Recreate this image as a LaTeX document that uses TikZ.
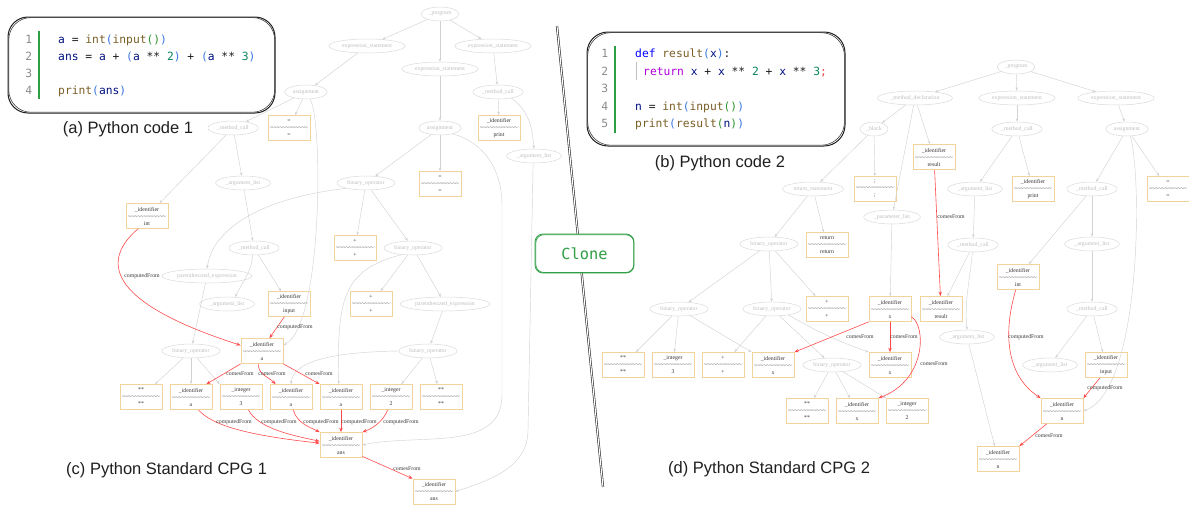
\documentclass[tikz,border=0pt]{standalone}
\usepackage{fontspec}
\setmainfont{Liberation Serif}
\newfontfamily\capfont{Liberation Sans}
\newfontfamily\codefont{DejaVu Sans Mono}
\usetikzlibrary{shapes.geometric,arrows.meta,calc}

% graph colours
\definecolor{ellc}{HTML}{D9D9D9}
\definecolor{elltxt}{HTML}{BDBDBD}
\definecolor{boxc}{HTML}{F2D49B}
\definecolor{boxtxt}{HTML}{333333}
\definecolor{edgec}{HTML}{D2D2D2}
\definecolor{redc}{HTML}{FF4A4A}
\definecolor{lbltxt}{HTML}{3A3A3A}
% code colours
\definecolor{cvar}{HTML}{001080}
\definecolor{cfun}{HTML}{795E26}
\definecolor{cnum}{HTML}{098658}
\definecolor{cbra}{HTML}{3A78E0}
\definecolor{cbrb}{HTML}{319331}
\definecolor{ckw}{HTML}{0000FF}
\definecolor{cret}{HTML}{AF00DB}
\definecolor{csemi}{HTML}{E0403A}
\definecolor{clnum}{HTML}{8A8A8A}
\definecolor{cbar}{HTML}{2EA043}
\definecolor{clonec}{HTML}{2F9E44}

\newcommand\gfont{\fontsize{5.8}{7}\selectfont}
\newcommand\sepln{\string~\string~\string~\string~\string~\string~\string~\string~\string~\string~\string~\string~}
\newcommand\bx[2]{#1\\\sepln\\#2}
\newcommand\cv[1]{\textcolor{cvar}{#1}}
\newcommand\fn[1]{\textcolor{cfun}{#1}}
\newcommand\nm[1]{\textcolor{cnum}{#1}}
\newcommand\ba[1]{\textcolor{cbra}{#1}}
\newcommand\bb[1]{\textcolor{cbrb}{#1}}
\newcommand\kw[1]{\textcolor{ckw}{#1}}
\newcommand\kr[1]{\textcolor{cret}{#1}}
\newcommand\sm[1]{\textcolor{csemi}{#1}}

\begin{document}
\begin{tikzpicture}[x=1pt,y=1pt,
  enode/.style={ellipse,draw=ellc,line width=0.5pt,text=elltxt,font=\gfont,inner xsep=2pt,inner ysep=0.5pt,minimum height=14pt},
  cbox/.style={rectangle,draw=boxc,line width=0.75pt,minimum width=42pt,minimum height=25pt,inner sep=0pt,align=center,font=\gfont,text=boxtxt},
  ge/.style={draw=edgec,line width=0.45pt,-{Stealth[length=3.4pt,width=2.6pt]}},
  re/.style={draw=redc,line width=0.6pt,-{Stealth[length=4.4pt,width=3.4pt]}},
  elab/.style={font=\gfont,text=lbltxt,inner sep=0pt},
  codeln/.style={anchor=base west,inner sep=0pt,text=black!88,font=\codefont\fontsize{11.3}{13}\selectfont},
  lnum/.style={anchor=base east,inner sep=0pt,text=clnum,font=\codefont\fontsize{11.3}{13}\selectfont},
  sketch/.style={draw=black!88,line width=1pt},
  sketchb/.style={draw=black!80,line width=0.55pt},
  captxt/.style={inner sep=0pt,text=black!88,font=\capfont\fontsize{16.5}{19}\selectfont},
]
\useasboundingbox (0,0) rectangle (1189,-504);

% ---------------- code panel (a) ----------------
\draw[sketch,rounded corners=20pt] (8,-17) rectangle (275,-113);
\draw[sketchb,rounded corners=22pt] (8.8,-17.6) rectangle (274.6,-112.2);
\draw[cbar,line width=2.4pt] (39,-31) -- (39,-99);
\node[lnum] (an1) at (32.4,-43) {1};
\node[lnum] (an2) at (32.4,-60) {2};
\node[lnum] (an3) at (32.4,-77) {3};
\node[lnum] (an4) at (32.4,-94) {4};
\node[codeln] (ac1) at (58,-43) {\cv{a} = \fn{int}\ba{(}\fn{input}\bb{()}\ba{)}};
\node[codeln] (ac2) at (58,-60) {\cv{ans} = \cv{a} + \ba{(}\cv{a} ** \nm{2}\ba{)} + \ba{(}\cv{a} ** \nm{3}\ba{)}};
\node[codeln] (ac4) at (58,-94) {\fn{print}\ba{(}\cv{ans}\ba{)}};
\node[captxt,anchor=base] (capa) at (128,-133) {(a) Python code 1};

% ---------------- code panel (b) ----------------
\draw[sketch,rounded corners=21pt] (587,-32) rectangle (845,-146);
\draw[sketchb,rounded corners=23pt] (587.7,-32.7) rectangle (844.4,-145.2);
\draw[cbar,line width=2.4pt] (615,-46) -- (615,-133);
\draw[black!25,line width=0.6pt] (636,-62) -- (636,-80);
\node[lnum] (bn1) at (608.4,-57.5) {1};
\node[lnum] (bn2) at (608.4,-75) {2};
\node[lnum] (bn3) at (608.4,-92.5) {3};
\node[lnum] (bn4) at (608.4,-110) {4};
\node[lnum] (bn5) at (608.4,-127.5) {5};
\node[codeln] (bc1) at (635,-57.5) {\kw{def} \fn{result}\ba{(}\cv{x}\ba{)}:};
\node[codeln] (bc2) at (643,-75) {\kr{return} \cv{x} + \cv{x} ** \nm{2} + \cv{x} ** \nm{3}\sm{;}};
\node[codeln] (bc4) at (635,-110) {\cv{n} = \fn{int}\ba{(}\fn{input}\bb{()}\ba{)}};
\node[codeln] (bc5) at (635,-127.5) {\fn{print}\ba{(}\fn{result}\bb{(}\cv{n}\bb{)}\ba{)}};
\node[captxt,anchor=base] (capb) at (720,-167) {(b) Python code 2};

% ---------------- CPG 1 ----------------
\node[enode] (Lprog) at (440,-14) {\_program};
\node[enode] (Lexs1) at (367,-46) {expression\_statement};
\node[enode] (Lexs2) at (440,-69) {expression\_statement};
\node[enode] (Lexs3) at (493,-46) {expression\_statement};
\node[enode] (Lasg1) at (306,-92) {assignment};
\node[enode] (Lmc3) at (498,-92) {\_method\_call};
\node[enode] (Lmc1) at (233,-128) {\_method\_call};
\node[enode] (Lasg2) at (440,-128) {assignment};
\node[enode] (Lal3) at (534,-156) {\_argument\_list};
\node[enode] (Lal1) at (243,-183) {\_argument\_list};
\node[enode] (Lbo1) at (366,-183) {binary\_operator};
\node[enode] (Lmc2) at (254,-248) {\_method\_call};
\node[enode] (Lbo2) at (413,-248) {binary\_operator};
\node[enode] (Lpe1) at (207,-276) {parenthesized\_expression};
\node[enode] (Lal2) at (227,-304) {\_argument\_list};
\node[enode] (Lpe2) at (445,-304) {parenthesized\_expression};
\node[enode] (Lbo3) at (191,-351) {binary\_operator};
\node[enode] (Lbo4) at (428,-351) {binary\_operator};

\node[cbox] (Leq1) at (289,-128) {\bx{=}{=}};
\node[cbox] (Lprint) at (499,-128) {\bx{\_identifier}{print}};
\node[cbox] (Leq2) at (440,-184) {\bx{=}{=}};
\node[cbox] (Lint) at (147,-216) {\bx{\_identifier}{int}};
\node[cbox] (Lplus1) at (355,-248) {\bx{+}{+}};
\node[cbox] (Linput) at (289,-304) {\bx{\_identifier}{input}};
\node[cbox] (Lplus2) at (371,-304) {\bx{+}{+}};
\node[cbox] (La0) at (262,-351) {\bx{\_identifier}{a}};
\node[cbox] (Lpow1) at (141,-397) {\bx{**}{**}};
\node[cbox] (La1) at (191,-397) {\bx{\_identifier}{a}};
\node[cbox] (Lint3) at (241,-397) {\bx{\_integer}{3}};
\node[cbox] (La2) at (291,-397) {\bx{\_identifier}{a}};
\node[cbox] (La3) at (341,-397) {\bx{\_identifier}{a}};
\node[cbox] (Lint2) at (391,-397) {\bx{\_integer}{2}};
\node[cbox] (Lpow2) at (441,-397) {\bx{**}{**}};
\node[cbox] (Lans) at (341,-445) {\bx{\_identifier}{ans}};
\node[cbox] (Lans2) at (434,-491.5) {\bx{\_identifier}{ans}};

% syntax edges
\draw[ge] (Lprog) -- (Lexs1);
\draw[ge] (Lprog) -- (Lexs2);
\draw[ge] (Lprog) -- (Lexs3);
\draw[ge] (Lexs1) -- (Lasg1);
\draw[ge] (Lasg1) -- (Lmc1);
\draw[ge] (Lasg1) -- (Leq1);
\draw[ge] (Lasg1.-60) .. controls (323,-120) and (323,-325) .. (La0.15);
\draw[ge] (Lmc1) -- (Lint);
\draw[ge] (Lmc1) -- (Lal1);
\draw[ge] (Lal1) -- (Lmc2);
\draw[ge] (Lmc2.-100) to[out=-95,in=65] (Lal2.40);
\draw[ge] (Lmc2) -- (Linput);
\draw[ge] (Lexs2) -- (Lasg2);
\draw[ge] (Lasg2) -- (Lbo1);
\draw[ge] (Lasg2) -- (Leq2);
\draw[ge] (Lasg2.-25) to[out=-15,in=90] (502,-205) -- (502,-395) to[out=-90,in=12] (Lans.east);
\draw[ge] (Lbo1) -- (Lplus1);
\draw[ge] (Lbo1) -- (Lbo2);
\draw[ge] (Lbo1.195) .. controls (262,-198) and (213,-228) .. (Lpe1.north);
\draw[ge] (Lbo2) -- (Lplus2);
\draw[ge] (Lbo2) -- (Lpe2);
\draw[ge] (Lbo2.-150) .. controls (342,-270) and (337,-300) .. (La3.100);
\draw[ge] (Lpe1) -- (Lbo3);
\draw[ge] (Lpe2) -- (Lbo4);
\draw[ge] (Lbo3) -- (Lpow1);
\draw[ge] (Lbo3) -- (La1);
\draw[ge] (Lbo3) -- (Lint3.north west);
\draw[ge] (Lbo4.west) .. controls (330,-352) and (293,-362) .. (La2.north);
\draw[ge] (Lbo4) -- (Lint2);
\draw[ge] (Lbo4) -- (Lpow2);
\draw[ge] (Lexs3) -- (Lmc3);
\draw[ge] (Lmc3) -- (Lprint);
\draw[ge] (Lmc3.-25) to[out=-35,in=95] (Lal3.north);
\draw[ge] (Lal3.-97) -- (528,-430) to[out=-90,in=18] (Lans2.east);

% data-flow edges
\draw[re] (Lint.235) .. controls (104,-258) and (100,-300) .. (La0.165);
\draw[re] (Linput.250) -- (La0.60);
\draw[re] (La0.south west) -- (La1.40);
\draw[re] (La0.255) to[out=-95,in=135] (La2.140);
\draw[re] (La0.south east) -- (La3.north west);
\draw[re] (La1.-60) .. controls (212,-425) and (245,-435) .. (Lans.175);
\draw[re] (Lint3.-60) .. controls (258,-428) and (290,-435) .. (Lans.170);
\draw[re] (La2.-80) .. controls (297,-424) and (312,-428) .. (Lans.north west);
\draw[re] (La3) -- (Lans);
\draw[re] (Lint2.-105) .. controls (384,-420) and (374,-428) .. (Lans.north east);
\draw[re] (Lans.-28) -- (Lans2.north west);

\node[elab] (l1) at (142,-276) {computedFrom};
\node[elab] (l2) at (295,-327) {computedFrom};
\node[elab] (l3) at (240,-374) {comesFrom};
\node[elab] (l4) at (272,-374) {comesFrom};
\node[elab] (l5) at (319,-374) {comesFrom};
\node[elab] (l6) at (234,-422) {computedFrom};
\node[elab] (l7) at (279,-422) {computedFrom};
\node[elab] (l8) at (321,-422) {computedFrom};
\node[elab] (l9) at (359,-422) {computedFrom};
\node[elab] (l10) at (401,-422) {computedFrom};
\node[elab] (l11) at (407,-469) {comesFrom};

\node[captxt,anchor=base west] (capc) at (66,-474) {(c) Python Standard CPG 1};

% ---------------- CPG 2 ----------------
\node[enode] (Rprog) at (1016,-67) {\_program};
\node[enode] (Rmd) at (915,-98) {\_method\_declaration};
\node[enode] (Rexs1) at (1017,-98) {expression\_statement};
\node[enode] (Rexs2) at (1116,-98) {expression\_statement};
\node[enode] (Rblock) at (874,-129) {\_block};
\node[enode] (Rmc1) at (1017,-129) {\_method\_call};
\node[enode] (Rasg) at (1127,-129) {assignment};
\node[enode] (Rret) at (813,-189) {return\_statement};
\node[enode] (Ral1) at (975,-189) {\_argument\_list};
\node[enode] (Rmc2) at (1092,-189) {\_method\_call};
\node[enode] (Rpl) at (892,-217) {\_parameter\_list};
\node[enode] (Rbo1) at (769,-244) {binary\_operator};
\node[enode] (Rmc3) at (973,-245) {\_method\_call};
\node[enode] (Ral2) at (1092,-244) {\_argument\_list};
\node[enode] (Rbo2) at (679,-309) {binary\_operator};
\node[enode] (Rbo3) at (772,-309) {binary\_operator};
\node[enode] (Rmc4) at (1092,-309) {\_method\_call};
\node[enode] (Ral3) at (967,-337) {\_argument\_list};
\node[enode] (Rbo4) at (832,-365) {binary\_operator};
\node[enode] (Ral4) at (1050,-365) {\_argument\_list};

\node[cbox] (Rres1) at (934,-157) {\bx{\_identifier}{result}};
\node[cbox] (Rsemi) at (875,-189) {\bx{;}{;}};
\node[cbox] (Rprint) at (1033,-189) {\bx{\_identifier}{print}};
\node[cbox] (Req) at (1168,-189) {\bx{=}{=}};
\node[cbox] (Rreturn) at (827,-245) {\bx{return}{return}};
\node[cbox] (Rint) at (1018,-277) {\bx{\_identifier}{int}};
\node[cbox] (Rplus1) at (827,-309) {\bx{+}{+}};
\node[cbox] (Rx0) at (890,-309) {\bx{\_identifier}{x}};
\node[cbox] (Rres2) at (941,-309) {\bx{\_identifier}{result}};
\node[cbox] (Rpow1) at (623,-365) {\bx{**}{**}};
\node[cbox] (Rint3) at (673,-365) {\bx{\_integer}{3}};
\node[cbox] (Rplus2) at (723,-365) {\bx{+}{+}};
\node[cbox] (Rx1) at (773,-365) {\bx{\_identifier}{x}};
\node[cbox] (Rx2) at (890,-365) {\bx{\_identifier}{x}};
\node[cbox] (Rinput) at (1106,-365) {\bx{\_identifier}{input}};
\node[cbox] (Rpow2) at (807,-411) {\bx{**}{**}};
\node[cbox] (Rx3) at (857,-411) {\bx{\_identifier}{x}};
\node[cbox] (Rint2) at (907,-411) {\bx{\_integer}{2}};
\node[cbox] (Rn1) at (1062,-411) {\bx{\_identifier}{n}};
\node[cbox] (Rn2) at (998,-459) {\bx{\_identifier}{n}};

% syntax edges
\draw[ge] (Rprog) -- (Rmd);
\draw[ge] (Rprog) -- (Rexs1);
\draw[ge] (Rprog) -- (Rexs2);
\draw[ge] (Rmd) -- (Rblock);
\draw[ge] (Rmd) -- (Rres1);
\draw[ge] (Rmd) -- (Rpl);
\draw[ge] (Rblock) -- (Rret);
\draw[ge] (Rblock) -- (Rsemi);
\draw[ge] (Rret) -- (Rbo1);
\draw[ge] (Rret) -- (Rreturn);
\draw[ge] (Rbo1) -- (Rbo2);
\draw[ge] (Rbo1) -- (Rbo3);
\draw[ge] (Rbo1) -- (Rplus1);
\draw[ge] (Rbo2) -- (Rpow1);
\draw[ge] (Rbo2) -- (Rint3);
\draw[ge] (Rbo2) -- (Rx1.north west);
\draw[ge] (Rbo3) -- (Rplus2);
\draw[ge] (Rbo3) -- (Rbo4);
\draw[ge] (Rbo3.-20) to[out=-30,in=160] (Rx2.north west);
\draw[ge] (Rbo4) -- (Rpow2);
\draw[ge] (Rbo4) -- (Rx3);
\draw[ge] (Rbo4) -- (Rint2);
\draw[ge] (Rpl) -- (Rx0);
\draw[ge] (Rexs1) -- (Rmc1);
\draw[ge] (Rmc1) -- (Ral1);
\draw[ge] (Rmc1) -- (Rprint);
\draw[ge] (Ral1) -- (Rmc3);
\draw[ge] (Rmc3) -- (Rres2);
\draw[ge] (Rmc3.-95) to[out=-95,in=95] (Ral3.north);
\draw[ge] (Ral3) -- (Rn2);
\draw[ge] (Rexs2) -- (Rasg);
\draw[ge] (Rasg) -- (Rmc2);
\draw[ge] (Rasg) -- (Req);
\draw[ge] (Rasg.-65) .. controls (1142,-175) and (1142,-390) .. (Rn1.east);
\draw[ge] (Rmc2) -- (Rint);
\draw[ge] (Rmc2) -- (Ral2);
\draw[ge] (Ral2) -- (Rmc4);
\draw[ge] (Rmc4) -- (Ral4);
\draw[ge] (Rmc4) -- (Rinput);

% data-flow edges
\draw[re] (Rres1) -- (Rres2);
\draw[re] (Rx0.south west) -- (Rx1.north east);
\draw[re] (Rx0) -- (Rx2);
\draw[re] (Rx0.-20) .. controls (926,-325) and (927,-380) .. (Rx3.north east);
\draw[re] (Rint.-100) .. controls (1001,-340) and (1010,-378) .. (Rn1.north west);
\draw[re] (Rinput.-115) -- (Rn1.north east);
\draw[re] (Rn1.220) -- (Rn2.north east);

\node[elab] (r1) at (951,-217) {comesFrom};
\node[elab] (r2) at (860,-337) {comesFrom};
\node[elab] (r3) at (904,-337) {comesFrom};
\node[elab] (r4) at (934,-364) {comesFrom};
\node[elab] (r5) at (1026,-337) {computedFrom};
\node[elab] (r6) at (1105,-388) {computedFrom};
\node[elab] (r7) at (1049,-436) {comesFrom};

\node[captxt,anchor=base west] (capd) at (668,-473) {(d) Python Standard CPG 2};

% ---------------- divider and clone tag ----------------
\coordinate (dtop) at (557,-26);
\coordinate (dbot) at (603,-487);
\draw[black!90,double=white,double distance=1.1pt,line width=0.55pt] (dtop) -- (dbot);
\node[draw=clonec,fill=white,line width=0.8pt,rounded corners=8pt,minimum width=99pt,minimum height=39pt,inner sep=0pt,text=clonec,font=\codefont\fontsize{15.3}{17}\selectfont] (clone) at (584.5,-253.5) {Clone};
\draw[clonec,line width=0.7pt,rounded corners=8pt] ($(clone.south west)+(1.2,0.9)$) rectangle ($(clone.north east)+(-0.6,-1.1)$);
\end{tikzpicture}
\end{document}
